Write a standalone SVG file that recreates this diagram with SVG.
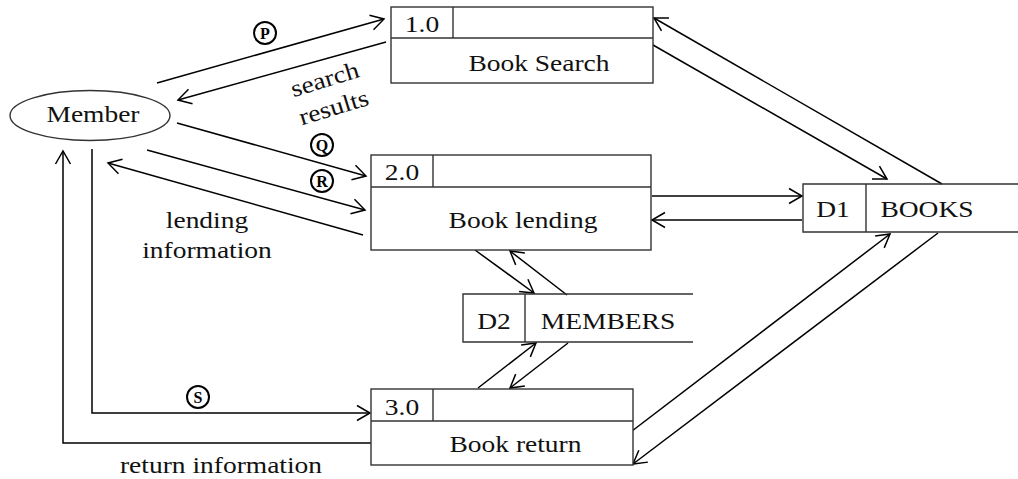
<svg xmlns="http://www.w3.org/2000/svg" width="1018" height="479" viewBox="0 0 1018 479">
<defs>
  <marker id="ah" markerUnits="userSpaceOnUse" markerWidth="20" markerHeight="20" viewBox="-18 -10 20 20" refX="0" refY="0" orient="auto">
    <path d="M-13,-7.5 L0,0 L-13,7.5" fill="none" stroke="#000" stroke-width="1.5"/>
  </marker>
</defs>
<rect width="1018" height="479" fill="#fff"/>

<g id="connectors">
  <g fill="none" stroke="#000" stroke-width="1.5" marker-end="url(#ah)">
    <line x1="157" y1="83" x2="384" y2="19"/>
    <line x1="386" y1="42" x2="178" y2="100"/>
    <line x1="177" y1="123" x2="366" y2="176"/>
    <line x1="147" y1="150" x2="365" y2="210"/>
    <line x1="363" y1="235" x2="108" y2="163"/>
    <path d="M371,443 H63 V151"/>
    <path d="M92,149 V413 H370"/>
    <line x1="653" y1="45" x2="887" y2="179"/>
    <line x1="942" y1="184" x2="654" y2="18"/>
    <line x1="652" y1="196" x2="802" y2="196"/>
    <line x1="802" y1="220" x2="652" y2="220"/>
    <line x1="475" y1="250" x2="534" y2="293"/>
    <line x1="567" y1="295" x2="510" y2="251"/>
    <line x1="478" y1="388" x2="536" y2="343"/>
    <line x1="568" y1="343" x2="510" y2="388"/>
    <line x1="632" y1="431" x2="890" y2="234"/>
    <line x1="938" y1="233" x2="633" y2="464"/>
  </g>
  <g id="flow-labels">
    <g fill="#fff" stroke="#000" stroke-width="2">
      <circle cx="265" cy="33" r="11"/>
      <circle cx="322" cy="145" r="11"/>
      <circle cx="322" cy="181" r="11"/>
      <circle cx="198" cy="397" r="11"/>
    </g>
    <text x="265" y="38.5" font-family="Liberation Serif" font-size="16" font-weight="bold" text-anchor="middle" fill="#000">P</text>
    <text x="322" y="150.5" font-family="Liberation Serif" font-size="16" font-weight="bold" text-anchor="middle" fill="#000">Q</text>
    <text x="322" y="186.5" font-family="Liberation Serif" font-size="16" font-weight="bold" text-anchor="middle" fill="#000">R</text>
    <text x="198" y="402.5" font-family="Liberation Serif" font-size="16" font-weight="bold" text-anchor="middle" fill="#000">S</text>
    <text x="0" y="0" font-family="Liberation Serif" font-size="24" text-anchor="middle" fill="#111" transform="rotate(-17 327 87) translate(327 87) scale(1.145 1)">search</text>
    <text x="0" y="0" font-family="Liberation Serif" font-size="24" text-anchor="middle" fill="#111" transform="rotate(-17 336 115) translate(336 115) scale(1.145 1)">results</text>
    <text x="0" y="0" font-family="Liberation Serif" font-size="24" text-anchor="middle" fill="#111" transform="translate(207 228) scale(1.145 1)">lending</text>
    <text x="0" y="0" font-family="Liberation Serif" font-size="24" text-anchor="middle" fill="#111" transform="translate(207 258) scale(1.145 1)">information</text>
    <text x="0" y="0" font-family="Liberation Serif" font-size="24" text-anchor="middle" fill="#111" transform="translate(221 473) scale(1.145 1)">return information</text>
  </g>
</g>

<g id="member">
  <ellipse cx="90" cy="115.5" rx="80" ry="25" fill="#fff" stroke="#333" stroke-width="1.4"/>
  <text x="0" y="0" font-family="Liberation Serif" font-size="24" text-anchor="middle" fill="#111" transform="translate(93 122) scale(1.145 1)">Member</text>
</g>

<g id="p1">
  <g fill="none" stroke="#333" stroke-width="1.4">
    <rect x="391" y="7" width="262" height="76" fill="#fff"/>
    <line x1="391" y1="38" x2="653" y2="38"/>
    <line x1="453" y1="7" x2="453" y2="38"/>
  </g>
  <text x="0" y="0" font-family="Liberation Serif" font-size="24" text-anchor="middle" fill="#111" transform="translate(422 32) scale(1.145 1)">1.0</text>
  <text x="0" y="0" font-family="Liberation Serif" font-size="24" text-anchor="middle" fill="#111" transform="translate(539 71) scale(1.145 1)">Book Search</text>
</g>

<g id="p2">
  <g fill="none" stroke="#333" stroke-width="1.4">
    <rect x="371" y="155" width="280" height="95" fill="#fff"/>
    <line x1="371" y1="187" x2="651" y2="187"/>
    <line x1="433" y1="155" x2="433" y2="187"/>
  </g>
  <text x="0" y="0" font-family="Liberation Serif" font-size="24" text-anchor="middle" fill="#111" transform="translate(402 180) scale(1.145 1)">2.0</text>
  <text x="0" y="0" font-family="Liberation Serif" font-size="24" text-anchor="middle" fill="#111" transform="translate(523 228) scale(1.145 1)">Book lending</text>
</g>

<g id="p3">
  <g fill="none" stroke="#333" stroke-width="1.4">
    <rect x="371" y="389" width="262" height="76" fill="#fff"/>
    <line x1="371" y1="421" x2="633" y2="421"/>
    <line x1="433" y1="389" x2="433" y2="421"/>
  </g>
  <text x="0" y="0" font-family="Liberation Serif" font-size="24" text-anchor="middle" fill="#111" transform="translate(402 415) scale(1.145 1)">3.0</text>
  <text x="0" y="0" font-family="Liberation Serif" font-size="24" text-anchor="middle" fill="#111" transform="translate(515.5 452) scale(1.145 1)">Book return</text>
</g>

<g id="d1">
  <path d="M1018,184 H803 V232 H1018 M866,184 V232" fill="none" stroke="#333" stroke-width="1.4"/>
  <text x="0" y="0" font-family="Liberation Serif" font-size="24" text-anchor="middle" fill="#111" transform="translate(833 217) scale(1.145 1)">D1</text>
  <text x="0" y="0" font-family="Liberation Serif" font-size="24" text-anchor="middle" fill="#111" transform="translate(927 217) scale(1.145 1)">BOOKS</text>
</g>

<g id="d2">
  <path d="M693,294 H463 V342 H693 M525,294 V342" fill="none" stroke="#333" stroke-width="1.4"/>
  <text x="0" y="0" font-family="Liberation Serif" font-size="24" text-anchor="middle" fill="#111" transform="translate(494 329) scale(1.145 1)">D2</text>
  <text x="0" y="0" font-family="Liberation Serif" font-size="24" text-anchor="middle" fill="#111" transform="translate(608 329) scale(1.145 1)">MEMBERS</text>
</g>
</svg>
